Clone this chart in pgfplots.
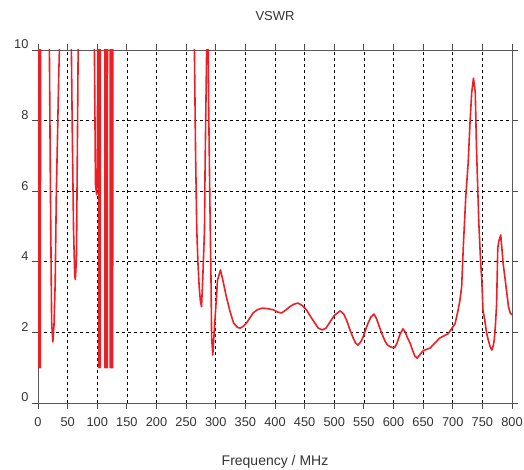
\documentclass[border=0pt]{standalone}
\usepackage{fontspec}
\setmainfont{Liberation Sans}
\usepackage{pgfplots}
\pgfplotsset{compat=1.18}
\definecolor{vred}{RGB}{236,32,36}
\pgfplotstableread{
x y
0 1.0
1 40
2 1.0
3 40
4 1.0
5 40
18 40
19 10.5
21 6
23 2.3
25 1.73
27 2.2
29 3.4
31 6
33 7.6
35 9.3
37 10.5
39 40
54 40
56 10.5
58 7.5
60 4.9
62 3.6
63 3.5
64 3.8
65 4.2
66 6.3
68 10.5
69 40
93 40
95 10.5
97 6.2
99 5.9
100 6.3
101 10.5
102 40
103 1.0
104 40
105 1.0
106 40
112 40
113 1.0
114 40
115 1.0
116 40
117 1.0
118 40
121 40
122 1.0
123 40
124 1.0
125 40
126 1.0
127 40
262 40
264 10
266 7
268 4.9
270 3.95
272 3.3
274 2.9
276 2.73
278 3.5
281 4.9
282 6.7
284 9.2
285 10.5
287 10.5
288 8.5
290 5.8
292 3.5
293 1.87
295 1.36
297 1.9
299 2.44
303 3.48
308 3.77
313 3.4
318 3.0
324 2.6
330 2.27
336 2.15
341 2.12
347 2.18
352 2.27
358 2.42
363 2.55
370 2.64
379 2.69
388 2.67
397 2.64
404 2.58
411 2.55
418 2.63
425 2.73
432 2.8
439 2.83
446 2.76
453 2.64
460 2.45
467 2.27
473 2.12
480 2.07
486 2.12
493 2.3
500 2.48
510 2.61
516 2.52
521 2.34
527 2.05
532 1.84
536 1.7
540 1.64
545 1.74
549 1.88
553 2.08
557 2.26
562 2.44
567 2.52
571 2.4
574 2.26
580 1.98
586 1.74
590 1.64
594 1.6
598 1.57
602 1.57
606 1.7
611 1.95
616 2.1
620 2.0
624 1.83
628 1.7
632 1.5
636 1.33
640 1.27
645 1.38
650 1.48
656 1.52
662 1.56
670 1.7
678 1.84
685 1.9
692 1.96
698 2.1
704 2.25
709 2.63
712 2.9
715 3.29
718 4.5
722 5.85
726 6.8
729 7.9
732 8.8
735 9.2
738 8.8
740 7.26
744 5.1
747 4.0
749 3.49
751 2.63
754 2.35
757 2.0
760 1.78
763 1.6
766 1.5
768 1.6
770 1.78
772 2.2
774 2.8
776 4.4
778 4.6
781 4.76
785 3.96
790 3.29
794 2.73
797 2.55
800 2.5
}\vswr
\begin{document}
\begin{tikzpicture}
\begin{axis}[
  scale only axis, width=474pt, height=353pt,
  xmin=0, xmax=800, ymin=0, ymax=10,
  xtick={0,50,...,800}, ytick={0,2,...,10},
  grid=major,
  major grid style={black, dash pattern=on 3pt off 3pt, line width=0.7pt},
  axis line style={black!65, line width=0.9pt},
  tick align=outside, major tick length=6pt,
  tick style={black!70, line width=0.8pt},
  /pgf/number format/assume math mode=true,
  ticklabel style={font=\fontsize{12.8}{14}\selectfont, text=black!80},
  xticklabel style={yshift=-5pt},
  yticklabel style={yshift=5.5pt},
  xlabel={Frequency / MHz},
  xlabel style={font=\fontsize{14}{16}\selectfont, text=black!80, at={(axis description cs:0.5,0)}, anchor=center, yshift=-59pt},
  title={VSWR},
  title style={font=\fontsize{13}{15}\selectfont, text=black!80, at={(axis description cs:0.5,1)}, anchor=center, yshift=28pt},
  clip=true,
]
\addplot[vred, line width=1.6pt, line join=round] table[x=x,y=y] {\vswr};
\coordinate (ll) at (rel axis cs:0,0);
\coordinate (ur) at (rel axis cs:1,1);
\end{axis}
\pgfresetboundingbox
\useasboundingbox ([shift={(-38pt,-66pt)}]ll) rectangle ([shift={(12pt,50pt)}]ur);
\end{tikzpicture}
\end{document}
